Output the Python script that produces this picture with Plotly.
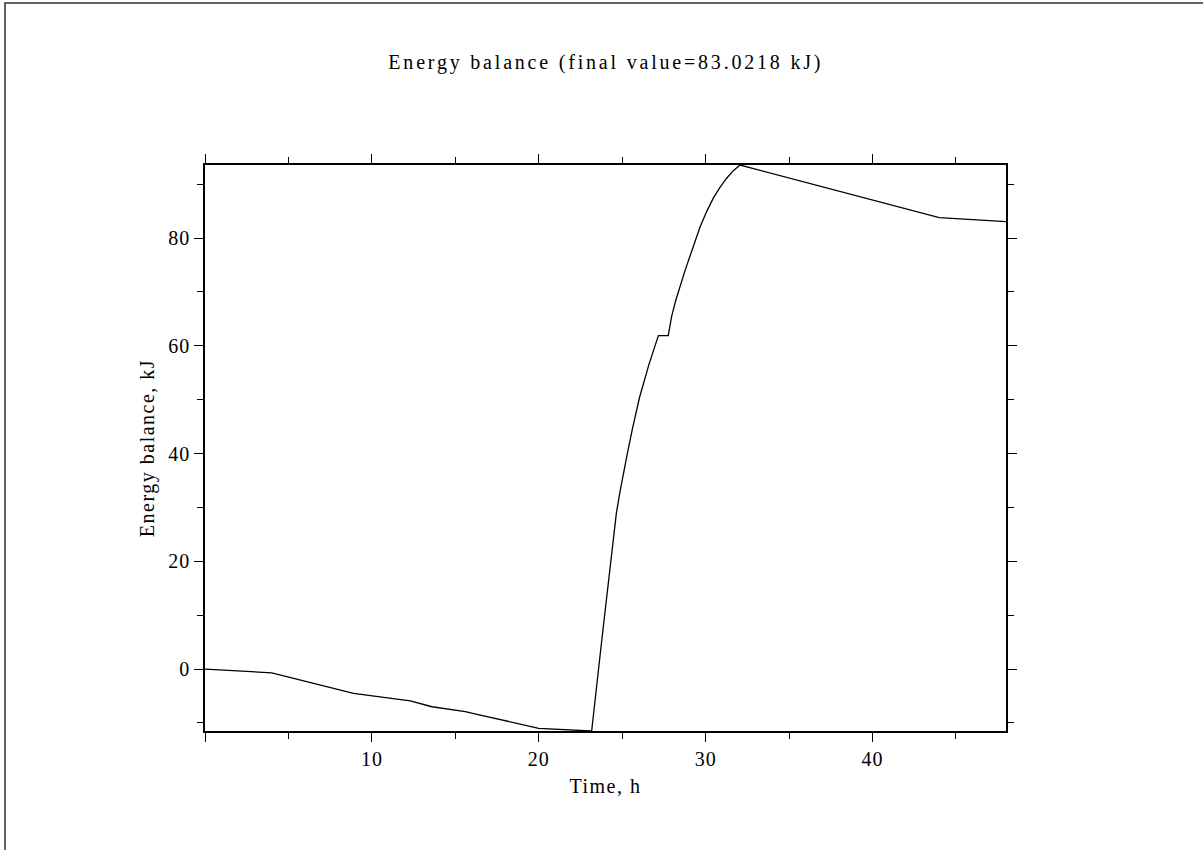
import plotly.graph_objects as go

# Data
time_h = [0, 4.0, 8.9, 12.3, 13.6, 15.6, 16.3, 20.0, 22.8, 23.17, 23.8, 24.2,
          24.45, 24.65, 24.85, 25.05, 25.27, 25.6, 26.03, 26.6, 27.17, 27.76,
          27.96, 28.2, 28.46, 28.76, 29.06, 29.36, 29.66, 30.06, 30.46, 30.86,
          31.26, 31.66, 32.06, 44.0, 48.0]
energy_kj = [0, -0.7, -4.5, -5.9, -7.0, -7.9, -8.4, -11.0, -11.45, -11.5, 6.0, 17.2,
             24.4, 28.9, 32.6, 36.0, 39.4, 44.4, 50.3, 56.5, 61.9, 61.9,
             65.4, 68.3, 71.0, 73.9, 76.6, 79.4, 82.0, 84.9, 87.4, 89.4,
             91.1, 92.5, 93.55, 83.8, 83.0218]

x_tickvals = [0, 10, 20, 30, 40]
x_ticktext = ["", "10", "20", "30", "40"]
y_tickvals = [0, 20, 40, 60, 80]

title_text = "Energy balance (final value=83.0218 kJ)"
x_title = "Time, h"
y_title = "Energy balance, kJ"

FONT = "Liberation Serif, Times New Roman, serif"

fig = go.Figure()
fig.add_trace(go.Scatter(x=time_h, y=energy_kj, mode="lines",
                         line=dict(color="black", width=1.3, shape="linear"),
                         showlegend=False, hoverinfo="skip"))

axis_common = dict(
    showline=True, linecolor="black", linewidth=1.5, mirror="allticks",
    ticks="outside", ticklen=9, tickwidth=1, tickcolor="black",
    showgrid=False, zeroline=False,
    tickfont=dict(family=FONT, size=20, color="black"),
)

fig.update_xaxes(
    range=[0, 48], tickmode="array", tickvals=x_tickvals, ticktext=x_ticktext,
    minor=dict(ticks="outside", ticklen=6, tickwidth=1, tickcolor="black",
               tickmode="linear", tick0=0, dtick=5, showgrid=False),
    title=dict(text=x_title, font=dict(family=FONT, size=20, color="black"), standoff=10),
    **axis_common,
)
fig.update_yaxes(
    range=[-11.5, 93.55], tickmode="array", tickvals=y_tickvals,
    minor=dict(ticks="outside", ticklen=6, tickwidth=1, tickcolor="black",
               tickmode="linear", tick0=0, dtick=10, showgrid=False),
    title=dict(text=y_title, font=dict(family=FONT, size=20, color="black"), standoff=10),
    **axis_common,
)

fig.update_layout(
    width=1203, height=850,
    margin=dict(l=205, r=197, t=165, b=119),
    paper_bgcolor="white", plot_bgcolor="white",
    title=dict(text=title_text, x=0.5036, xanchor="center", y=1 - 62 / 850, yanchor="middle",
               font=dict(family=FONT, size=20, color="black")),
    shapes=[dict(type="rect", xref="paper", yref="paper",
                 x0=(5 - 205) / 801, x1=2.0, y0=-2.0, y1=1 + (165 - 3) / 566,
                 line=dict(color="#333333", width=1.5), fillcolor="rgba(0,0,0,0)", layer="below")],
)

css = ("<style>body{margin:0 !important;} .gtitle{letter-spacing:2.8px;} "
       ".xtitle,.ytitle{letter-spacing:1.5px;} .xtick text,.ytick text{letter-spacing:1px;}</style>")
post = "document.head.insertAdjacentHTML('beforeend', %r);" % css

fig.write_html("out.html", post_script=post, config={"displayModeBar": False})
